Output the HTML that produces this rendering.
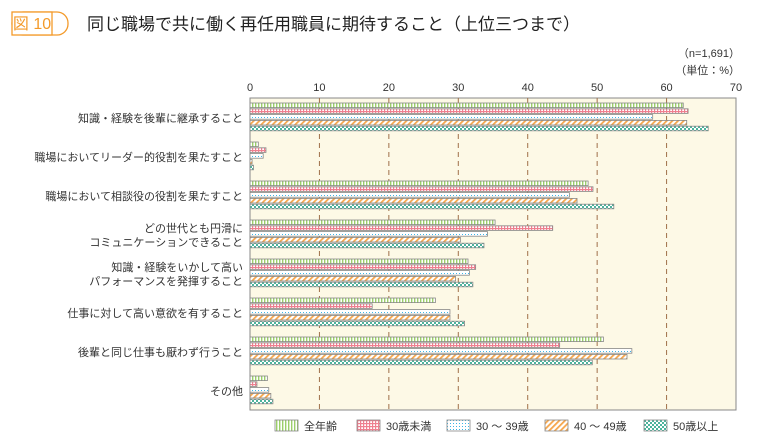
<!DOCTYPE html>
<html><head><meta charset="utf-8"><style>
body{margin:0;background:#fff;width:760px;height:440px;overflow:hidden;font-family:"Liberation Sans","Noto Sans CJK JP",sans-serif}
svg{display:block}
</style></head><body>
<svg id="chart" width="760" height="440" xmlns="http://www.w3.org/2000/svg" font-family="'Liberation Sans','Noto Sans CJK JP',sans-serif">
<defs>
<pattern id="p0" width="3" height="6" patternUnits="userSpaceOnUse"><rect width="3" height="6" fill="#fff"/><rect width="1.4" height="6" fill="#9ccf6a"/></pattern>
<pattern id="p1" width="3" height="3" patternUnits="userSpaceOnUse"><rect width="3" height="3" fill="#fff"/><rect width="1.2" height="3" fill="#ef7f8f"/><rect width="3" height="1.2" fill="#ef7f8f"/></pattern>
<pattern id="p2" width="3" height="3" patternUnits="userSpaceOnUse"><rect width="3" height="3" fill="#fff"/><rect width="1" height="1" fill="#3bb5e6"/></pattern>
<pattern id="p3" width="4" height="4" patternUnits="userSpaceOnUse" patternTransform="rotate(45)"><rect width="4" height="4" fill="#fff"/><rect width="1.8" height="4" fill="#f6a64c"/></pattern>
<pattern id="p4" width="4" height="4" patternUnits="userSpaceOnUse"><rect width="4" height="4" fill="#fff"/><rect width="2" height="2" fill="#4cb39c"/><rect x="2" y="2" width="2" height="2" fill="#4cb39c"/></pattern>
</defs>
<g>
<rect x="12" y="12" width="56" height="23" rx="11" fill="#fff" stroke="#f39a2a" stroke-width="1.3"/>
<rect x="12" y="12" width="40" height="23" fill="#fff" stroke="#f39a2a" stroke-width="1.3"/>
<text x="32" y="29" font-size="16" fill="#f39a2a" text-anchor="middle">図 10</text>
</g>
<text x="87" y="30" font-size="17" fill="#222">同じ職場で共に働く再任用職員に期待すること（上位三つまで）</text>
<text x="740" y="57" font-size="11" fill="#333" text-anchor="end">（n=1,691）</text>
<text x="740" y="74" font-size="11" fill="#333" text-anchor="end">（単位：%）</text>
<rect x="250" y="98" width="486" height="312" fill="#fdf9e6" stroke="#888" stroke-width="1"/>
<g id="grid"></g><g id="ticks"></g><g id="cats"></g><g id="bars"></g><g id="legend"></g>
</svg>
<script>
const categories=[["知識・経験を後輩に継承すること"],["職場においてリーダー的役割を果たすこと"],["職場において相談役の役割を果たすこと"],["どの世代とも円滑に","コミュニケーションできること"],["知識・経験をいかして高い","パフォーマンスを発揮すること"],["仕事に対して高い意欲を有すること"],["後輩と同じ仕事も厭わず行うこと"],["その他"]];
const seriesNames=["全年齢","30歳未満","30 ～ 39歳","40 ～ 49歳","50歳以上"];
const allAges=[62.4,1.2,48.7,35.3,31.4,26.7,50.9,2.5];
const under30=[63.1,2.3,49.4,43.6,32.5,17.6,44.6,1.0];
const age30s=[58.0,1.9,46.0,34.2,31.6,28.8,55.0,2.7];
const age40s=[62.9,0.3,47.1,30.3,29.6,28.8,54.3,3.0];
const over50=[66.0,0.5,52.4,33.7,32.1,30.9,49.3,3.3];
const tickValues=[0,10,20,30,40,50,60,70];
const series=[allAges,under30,age30s,age40s,over50];
const NS="http://www.w3.org/2000/svg";
const x=v=>250+v*486/70;
const groupTop=i=>103+i*39;
function mk(tag,attrs,parent){const e=document.createElementNS(NS,tag);for(const k in attrs)e.setAttribute(k,attrs[k]);parent.appendChild(e);return e;}
const grid=document.getElementById('grid'),ticks=document.getElementById('ticks'),cats=document.getElementById('cats'),bars=document.getElementById('bars'),leg=document.getElementById('legend');
tickValues.forEach(t=>{
 if(t>0&&t<70){const l=mk('line',{x1:x(t),x2:x(t),y1:98,y2:410,stroke:'#a0704a','stroke-dasharray':'5,4','stroke-width':1},grid);
 
 }
 const tx=mk('text',{x:x(t),y:91,'font-size':11,'text-anchor':'middle',fill:'#333'},ticks);tx.textContent=t;
 
 
});
categories.forEach((c,i)=>{
 const cy=groupTop(i)+15;
 c.forEach((line,j)=>{const t=mk('text',{x:243,y:cy+4+(j-(c.length-1)/2)*14,'font-size':11,'text-anchor':'end',fill:'#333'},cats);t.textContent=line;
 
 });
 series.forEach((s,k)=>{
  const r=mk('rect',{x:250,y:groupTop(i)+k*5.8,width:Math.max(0.5,x(s[i])-250),height:4.6,fill:'url(#p'+k+')',stroke:'#888','stroke-width':0.8},bars);
  
  
 });
});
const lx=[275,357,447,545,644];
seriesNames.forEach((n,k)=>{
 const r=mk('rect',{x:lx[k],y:420,width:23,height:11,fill:'url(#p'+k+')',stroke:'#888','stroke-width':0.8},leg);
 
 
 const t=mk('text',{x:lx[k]+29,y:430,'font-size':11,fill:'#333'},leg);t.textContent=n;
 
 
});
</script>
</body></html>
